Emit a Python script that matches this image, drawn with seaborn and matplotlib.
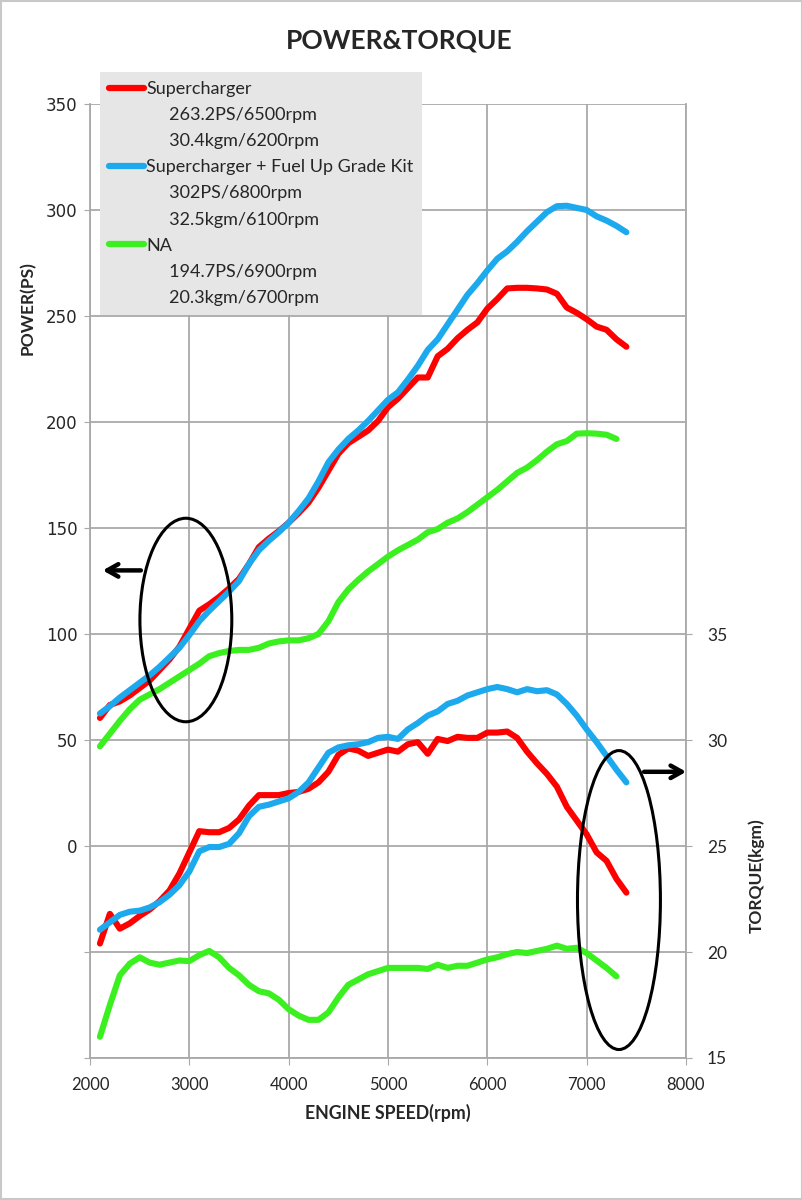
import numpy as np
import matplotlib.pyplot as plt
import pandas as pd
import seaborn as sns
from matplotlib.patches import Ellipse, Rectangle
from matplotlib.lines import Line2D

# rpm axis for each curve
rpm_sc = list(range(2100, 7401, 100))
rpm_na = list(range(2100, 7301, 100))

# power (PS)
ps_sc = [60.4, 66.5, 68.2, 71, 74.5, 78, 83, 88, 94, 102.5,
         111, 114, 117.5, 121.5, 126, 133, 141, 145, 148.5, 152.5,
         157, 162, 169, 177, 185, 190, 193, 196, 200.5, 207,
         211, 216, 221, 221, 231, 234.5, 239.5, 243.5, 247, 253.5,
         258, 263, 263.3, 263.3, 263, 262.5, 260.5, 254, 251.5, 248.5,
         245, 243.5, 239, 235.5]
ps_kit = [62.5, 66, 70, 73.5, 77, 80.5, 84.5, 89, 93.5, 99.5,
          106, 111, 115.5, 120, 125, 133, 139.5, 144, 148, 152.5,
          158, 164, 172, 181, 187, 192, 196, 200.5, 205.5, 210.5,
          214, 220, 226.5, 234, 239, 246, 253, 260, 265.5, 271.5,
          277, 280.5, 285, 290, 294.5, 299, 301.8, 302, 301, 300,
          297, 295, 292.5, 289.5]
ps_na = [47, 53, 59, 64.5, 69, 71.5, 74, 77, 80, 83,
         86, 89.5, 91, 92, 92.5, 92.5, 93.5, 95.5, 96.5, 97,
         97, 98, 100, 106, 115, 121, 125.5, 129.5, 133, 136.5,
         139.5, 142, 144.5, 148, 149.5, 152.5, 154.5, 157.5, 161, 164.5,
         168, 172, 176, 178.5, 182, 186, 189.5, 191, 194.5, 194.7,
         194.5, 194, 192]

# torque (kgm)
tq_sc = [20.4, 21.8, 21.1, 21.35, 21.7, 22.0, 22.4, 22.9, 23.7, 24.7,
         25.7, 25.65, 25.65, 25.85, 26.25, 26.9, 27.4, 27.4, 27.4, 27.5,
         27.55, 27.7, 28.0, 28.5, 29.3, 29.6, 29.5, 29.25, 29.4, 29.55,
         29.45, 29.8, 29.9, 29.35, 30.05, 29.95, 30.15, 30.1, 30.1, 30.35,
         30.35, 30.4, 30.1, 29.45, 28.9, 28.4, 27.8, 26.85, 26.2, 25.55,
         24.7, 24.3, 23.45, 22.8]
tq_kit = [21.05, 21.4, 21.75, 21.9, 21.95, 22.1, 22.35, 22.7, 23.15, 23.8,
          24.75, 24.95, 24.95, 25.1, 25.6, 26.4, 26.85, 26.95, 27.1, 27.25,
          27.55, 28.0, 28.7, 29.4, 29.65, 29.75, 29.8, 29.9, 30.1, 30.15,
          30.05, 30.5, 30.8, 31.15, 31.35, 31.7, 31.85, 32.1, 32.25, 32.4,
          32.5, 32.4, 32.25, 32.4, 32.3, 32.35, 32.15, 31.7, 31.15, 30.5,
          29.9, 29.25, 28.6, 28.0]
tq_na = [16.0, 17.5, 18.9, 19.45, 19.75, 19.5, 19.4, 19.5, 19.6, 19.57,
         19.85, 20.05, 19.75, 19.25, 18.9, 18.45, 18.15, 18.05, 17.75, 17.3,
         17.0, 16.8, 16.8, 17.15, 17.85, 18.45, 18.7, 18.95, 19.1, 19.25,
         19.25, 19.25, 19.25, 19.2, 19.4, 19.25, 19.35, 19.35, 19.5, 19.65,
         19.75, 19.9, 20.0, 19.95, 20.05, 20.15, 20.3, 20.15, 20.2, 19.95,
         19.6, 19.25, 18.85]

series = ['Supercharger', 'Supercharger + Fuel Up Grade Kit', 'NA']
notes = [['263.2PS/6500rpm', '30.4kgm/6200rpm'],
         ['302PS/6800rpm', '32.5kgm/6100rpm'],
         ['194.7PS/6900rpm', '20.3kgm/6700rpm']]
colors = ['#ff0000', '#1ca9ee', '#3af01e']

x_ticks = [2000, 3000, 4000, 5000, 6000, 7000, 8000]
ps_ticks = [-100, -50, 0, 50, 100, 150, 200, 250, 300, 350]
tq_ticks = [15, 20, 25, 30, 35]

sns.set_style("white")
plt.rcParams['font.family'] = ['Lato', 'DejaVu Sans']

fig = plt.figure(figsize=(8.03, 12), dpi=100)
ax = fig.add_axes([90 / 803, 1 - 1058 / 1200, 596 / 803, 954 / 1200])
ax2 = ax.twinx()

lw = 4.4
kw = dict(linewidth=lw, solid_capstyle='round', solid_joinstyle='round', legend=False)
power = [(rpm_sc, ps_sc), (rpm_sc, ps_kit), (rpm_na, ps_na)]
torque = [(rpm_sc, tq_sc), (rpm_sc, tq_kit), (rpm_na, tq_na)]
for (r, p), c in zip(power, colors):
    sns.lineplot(data=pd.DataFrame({'rpm': r, 'val': p}), x='rpm', y='val', color=c, ax=ax, **kw)
for (r, t), c in zip(torque, colors):
    sns.lineplot(data=pd.DataFrame({'rpm': r, 'val': t}), x='rpm', y='val', color=c, ax=ax2, **kw)

ax.set_xlim(2000, 8000)
ax.set_ylim(-100, 350)
ax2.set_ylim(15, 60)
ax.set_xticks(x_ticks)
ax.set_yticks(ps_ticks)
ax.set_yticklabels([str(v) if v >= 0 else '' for v in ps_ticks])
ax2.set_yticks(tq_ticks)
ax.grid(True, color='#a9a9a9', linewidth=1.3)
ax.set_axisbelow(True)

gray = '#a9a9a9'
for a in (ax, ax2):
    a.spines['top'].set_visible(False)
    for s in a.spines.values():
        s.set_color(gray)
        s.set_linewidth(1.3)
ax.spines['right'].set_visible(False)
ax2.spines['left'].set_visible(False)
ax2.spines['bottom'].set_visible(False)

ax.tick_params(axis='y', direction='out', length=4, color=gray, pad=5, labelsize=12,
               labelfontfamily='DejaVu Sans', left=True)
ax.tick_params(axis='x', direction='out', length=5, color=gray, pad=9, labelsize=12, bottom=True)
ax2.tick_params(axis='y', direction='out', length=4, color=gray, pad=11, labelsize=12.5, right=True)

ax.set_xlabel('ENGINE SPEED(rpm)', fontsize=12.8, fontweight='bold')
ax.xaxis.set_label_coords(0.5, -0.048)
ax.set_ylabel('POWER(PS)', fontsize=12.5, fontweight='bold', ha='left')
ax.yaxis.set_label_coords(-0.0906, 0.737)
ax2.set_ylabel('TORQUE(kgm)', fontsize=12.5, fontweight='bold', ha='left')
ax2.yaxis.set_label_coords(1.104, 0.131)

fig.text(399 / 803, 1 - 40 / 1200, 'POWER&TORQUE', ha='center', va='center',
         fontsize=19, fontweight='bold')

# legend
handles, labels = [], []
blank = Line2D([], [], color='none')
for name, c, sub in zip(series, colors, notes):
    handles.append(Line2D([], [], color=c, linewidth=4.5))
    labels.append(name)
    for s in sub:
        handles.append(blank)
        labels.append('     ' + s)
leg = ax2.legend(handles, labels, loc='upper left', bbox_to_anchor=(100 / 803, 1 - 72 / 1200),
                 bbox_transform=fig.transFigure, borderaxespad=0, fontsize=13,
                 handlelength=1.95, handletextpad=0.1, labelspacing=0.56,
                 frameon=True, fancybox=False, borderpad=0.5)
leg.get_frame().set_facecolor('#e6e6e6')
leg.get_frame().set_edgecolor('none')
leg.get_frame().set_alpha(1)
leg.set_zorder(10)

# ellipses and arrows
ax2.add_patch(Ellipse((2965, 106.6), 925, 96, transform=ax.transData, fill=False,
                      edgecolor='black', linewidth=2.2, zorder=5))
ax2.add_patch(Ellipse((7325, -25.5), 835, 141, transform=ax.transData, fill=False,
                      edgecolor='black', linewidth=2.2, zorder=5))
ax2.annotate('', xy=(2100, 130), xytext=(2540, 130), xycoords=ax.transData,
             textcoords=ax.transData, annotation_clip=False,
             arrowprops=dict(arrowstyle='->,head_length=0.8,head_width=0.45', lw=3.2, color='black'))
ax2.annotate('', xy=(8030, 35), xytext=(7550, 35), xycoords=ax.transData,
             textcoords=ax.transData, annotation_clip=False,
             arrowprops=dict(arrowstyle='->,head_length=0.8,head_width=0.45', lw=3.2, color='black'))

fig.patches.append(Rectangle((0.001, 0.001), 0.998, 0.998, transform=fig.transFigure,
                             fill=False, edgecolor='#c8c8c8', linewidth=1.5))

fig.savefig('out.png', dpi=100)
